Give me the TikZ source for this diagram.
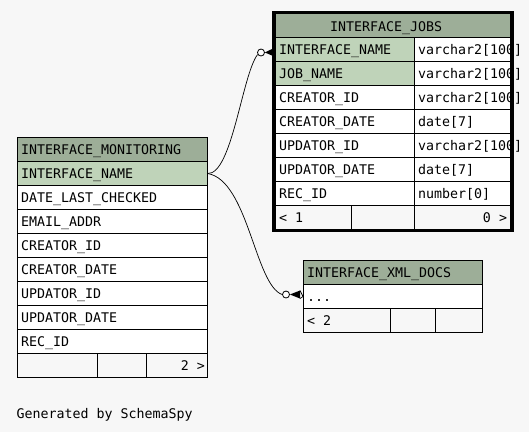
\documentclass[tikz,border=0pt]{standalone}
\usepackage{fontspec}
\setmonofont{DejaVu Sans Mono}
\definecolor{bg}{HTML}{F7F7F7}
\definecolor{hdr}{HTML}{9DAE98}
\definecolor{keyc}{HTML}{BFD3B9}
\tikzset{
  cell/.style={draw=black, line width=1pt, inner sep=0pt, outer sep=0pt, anchor=north west, minimum height=24pt, fill=white},
  txt/.style={font=\fontsize{13.3}{16}\selectfont\ttfamily, inner sep=0pt, outer sep=0pt, anchor=base west},
  txtr/.style={txt, anchor=base east},
  conn/.style={draw=black, line width=0.7pt},
  ring/.style={circle, draw=black, line width=0.8pt, fill=white, minimum size=7pt, inner sep=0pt},
}
\begin{document}
\begin{tikzpicture}[x=1pt,y=-1pt]
\fill[bg] (0,0) rectangle (529,432);
\useasboundingbox (0,0) rectangle (529,432);

% ---------- INTERFACE_JOBS ----------
\node[cell, fill=hdr, minimum width=235.5pt] (jobs-h) at (275,13) {};
\foreach \i/\n/\t/\k in {1/INTERFACE\_NAME/varchar2[100]/keyc, 2/JOB\_NAME/varchar2[100]/keyc, 3/CREATOR\_ID/varchar2[100]/white, 4/CREATOR\_DATE/date[7]/white, 5/UPDATOR\_ID/varchar2[100]/white, 6/UPDATOR\_DATE/date[7]/white, 7/REC\_ID/number[0]/white}{
  \node[cell, fill=\k, minimum width=139pt] (jobs-r\i) at (275,{13+24*\i}) {};
  \node[cell, minimum width=96.5pt] (jobs-t\i) at (414,{13+24*\i}) {};
  \node[txt] (jobs-n\i) at (279,{30+24*\i}) {\n};
  \node[txt] (jobs-y\i) at (418,{30+24*\i}) {\t};
}
\node[cell, fill=bg, minimum width=76pt] (jobs-f1) at (275,205) {};
\node[cell, fill=bg, minimum width=63pt] (jobs-f2) at (351,205) {};
\node[cell, fill=bg, minimum width=96.5pt] (jobs-f3) at (414,205) {};
\node[txt] (jobs-title) at (330,31) {INTERFACE\_JOBS};
\node[txt] (jobs-prev) at (279,222) {< 1};
\node[txtr] (jobs-next) at (507,222) {0 >};
\draw[line width=3pt] (273.5,12.5) rectangle (512,230);

% ---------- INTERFACE_MONITORING ----------
\node[cell, fill=hdr, minimum width=190pt] (mon-h) at (17.5,137.5) {};
\node[txt] (mon-title) at (21,154.5) {INTERFACE\_MONITORING};
\foreach \i/\n/\k in {1/INTERFACE\_NAME/keyc, 2/DATE\_LAST\_CHECKED/white, 3/EMAIL\_ADDR/white, 4/CREATOR\_ID/white, 5/CREATOR\_DATE/white, 6/UPDATOR\_ID/white, 7/UPDATOR\_DATE/white, 8/REC\_ID/white}{
  \node[cell, fill=\k, minimum width=190pt] (mon-r\i) at (17.5,{137.5+24*\i}) {};
  \node[txt] (mon-n\i) at (21,{154.5+24*\i}) {\n};
}
\node[cell, fill=bg, minimum width=80pt] (mon-f1) at (17.5,353.5) {};
\node[cell, fill=bg, minimum width=49pt] (mon-f2) at (97.5,353.5) {};
\node[cell, fill=bg, minimum width=61pt] (mon-f3) at (146.5,353.5) {};
\node[txtr] (mon-next) at (205,370.5) {2 >};

% ---------- INTERFACE_XML_DOCS ----------
\node[cell, fill=hdr, minimum width=179pt] (xml-h) at (303.5,260.5) {};
\node[txt] (xml-title) at (307,277.5) {INTERFACE\_XML\_DOCS};
\node[cell, minimum width=179pt] (xml-r1) at (303.5,284.5) {};
\node[txt] (xml-n1) at (307,301.5) {...};
\node[cell, fill=bg, minimum width=87pt] (xml-f1) at (303.5,308.5) {};
\node[cell, fill=bg, minimum width=45pt] (xml-f2) at (390.5,308.5) {};
\node[cell, fill=bg, minimum width=47pt] (xml-f3) at (435.5,308.5) {};
\node[txt] (xml-prev) at (307,325.5) {< 2};

% ---------- connectors ----------
\node[ring] (o1) at (261,52.5) {};
\coordinate (t1a) at (272,49);
\coordinate (t1b) at (272,55.5);
\draw[conn] (mon-r1.east) .. controls (232,175) and (242,75) .. (o1.210);
\fill (o1.east) -- (t1a) -- (t1b) -- cycle;

\node[ring] (o2) at (286,294.5) {};
\coordinate (t2a) at (300,290.5);
\coordinate (t2b) at (300,298.5);
\coordinate (t2c) at (303,296.5);
\draw[conn] (mon-r1.east) .. controls (248,180) and (255,285) .. (o2.west);
\fill (o2.east) -- (t2a) -- (t2b) -- cycle;
\draw[conn] (t2a) -- (t2c) (t2b) -- (t2c);

\node[txt] (gen) at (16.5,418) {Generated by SchemaSpy};
\end{tikzpicture}
\end{document}
